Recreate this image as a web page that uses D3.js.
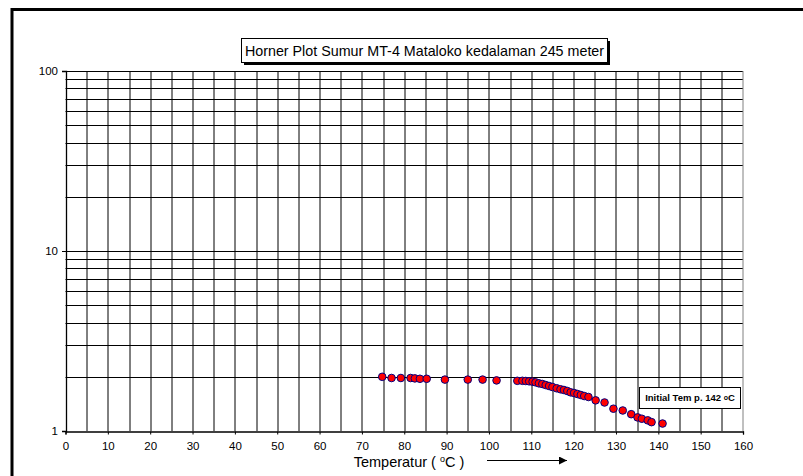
<!DOCTYPE html>
<html>
<head>
<meta charset="utf-8">
<script src="https://cdn.jsdelivr.net/npm/d3@7"></script>
<style>
  body { margin: 0; background: #fff; }
  text { font-family: "Liberation Sans", Arial, sans-serif; }
</style>
</head>
<body>
<div id="chart"></div>
<script>
// temperature (C) and horner time ratio
const temps = [74.8, 77.0, 79.2, 81.5, 82.5, 83.7, 85.3, 89.6, 95.0, 98.5, 101.8,
  106.7, 107.9, 108.7, 109.5, 110.3, 111.0, 111.8, 112.6, 113.4, 114.2, 115.0,
  116.0, 116.9, 117.7, 118.5, 119.3, 120.1, 120.9, 121.7, 122.5, 123.5, 125.2,
  127.3, 129.4, 131.6, 133.6, 135.1, 136.1, 137.5, 138.4, 141.0];
const horner = [2.00, 1.97, 1.97, 1.97, 1.96, 1.95, 1.95, 1.93, 1.93, 1.93, 1.91,
  1.90, 1.90, 1.896, 1.888, 1.880, 1.864, 1.840, 1.825, 1.801, 1.778, 1.755,
  1.727, 1.705, 1.690, 1.668, 1.640, 1.626, 1.605, 1.585, 1.564, 1.545, 1.48,
  1.44, 1.33, 1.30, 1.24, 1.19, 1.17, 1.146, 1.12, 1.10];

const xTicks = [0, 10, 20, 30, 40, 50, 60, 70, 80, 90, 100, 110, 120, 130, 140, 150, 160];
const xGrid = [5, 10, 15, 20, 25, 30, 35, 40, 45, 50, 55, 60, 65, 70, 75, 80, 85, 90, 95,
  100, 105, 110, 115, 120, 125, 130, 135, 140, 145, 150, 155];
const yTicks = [1, 10, 100];
const yGrid = [2, 3, 4, 5, 6, 7, 8, 9, 10, 20, 30, 40, 50, 60, 70, 80, 90, 100];

const titleText = "Horner Plot Sumur MT-4 Mataloko kedalaman 245 meter";

const W = 803, H = 476;
const margin = {top: 71, right: 60, bottom: 45, left: 65.5};
const width = 743 - margin.left;
const height = 431 - margin.top;

const svg = d3.select("#chart").append("svg")
  .attr("width", W)
  .attr("height", H);

// outer frame (runs off the right and bottom edge)
svg.append("rect")
  .attr("x", 12).attr("y", 9.5)
  .attr("width", 820).attr("height", 500)
  .attr("fill", "none")
  .attr("stroke", "#000")
  .attr("stroke-width", 3);

const g = svg.append("g")
  .attr("transform", `translate(${margin.left},${margin.top})`);

const x = d3.scaleLinear().domain([0, 160]).range([0, width]);
const y = d3.scaleLog().domain([1, 100]).range([height, 0]);

// grid
g.selectAll(".vgrid").data(xGrid).join("line")
  .attr("class", "vgrid")
  .attr("x1", d => Math.round(x(d)) + 0.5).attr("x2", d => Math.round(x(d)) + 0.5)
  .attr("y1", 0).attr("y2", height)
  .attr("stroke", "#000").attr("stroke-width", 1);

g.selectAll(".hgrid").data(yGrid).join("line")
  .attr("class", "hgrid")
  .attr("x1", 0).attr("x2", width)
  .attr("y1", d => Math.round(y(d)) + 0.5).attr("y2", d => Math.round(y(d)) + 0.5)
  .attr("stroke", "#000").attr("stroke-width", 1);

// plot border on the right, grey
g.append("line")
  .attr("x1", width).attr("x2", width)
  .attr("y1", 0).attr("y2", height)
  .attr("stroke", "#808080");

// axes
const xAxis = g.append("g")
  .attr("transform", `translate(0,${height + 0.5})`)
  .call(d3.axisBottom(x).tickValues(xTicks).tickSize(3).tickPadding(7));
const yAxis = g.append("g")
  .attr("transform", "translate(0.5,0)")
  .call(d3.axisLeft(y).tickValues(yTicks).tickFormat(d3.format("d")).tickSize(4).tickPadding(4));

[xAxis, yAxis].forEach(a => {
  a.select(".domain").attr("stroke", "#000").attr("stroke-width", 1.3);
  a.selectAll(".tick line").attr("stroke", "#000");
  a.selectAll(".tick text")
    .attr("font-size", 11.5)
    .attr("font-family", "Liberation Sans, Arial, sans-serif")
    .attr("fill", "#000");
});

// points
g.selectAll(".pt").data(temps).join("circle")
  .attr("class", "pt")
  .attr("cx", d => x(d))
  .attr("cy", (d, i) => y(horner[i]))
  .attr("r", 3.8)
  .attr("fill", "#ff0000")
  .attr("stroke", "#000080")
  .attr("stroke-width", 1);

// title box with shadow
const tb = {x: 241, y: 38, w: 366, h: 24};
svg.append("rect")
  .attr("x", tb.x + 3).attr("y", tb.y + 3)
  .attr("width", tb.w).attr("height", tb.h)
  .attr("fill", "#000");
svg.append("rect")
  .attr("x", tb.x + 0.5).attr("y", tb.y + 0.5)
  .attr("width", tb.w).attr("height", tb.h)
  .attr("fill", "#fff").attr("stroke", "#000");
svg.append("text")
  .attr("x", tb.x + tb.w / 2 + 0.5).attr("y", tb.y + 17.5)
  .attr("text-anchor", "middle")
  .attr("font-size", 14.3)
  .text(titleText);

// annotation box
const ab = {x: 639, y: 387, w: 101, h: 21};
svg.append("rect")
  .attr("x", ab.x + 0.5).attr("y", ab.y + 0.5)
  .attr("width", ab.w).attr("height", ab.h)
  .attr("fill", "#fff").attr("stroke", "#000");
const at = svg.append("text")
  .attr("x", ab.x + ab.w / 2 + 0.5).attr("y", ab.y + 14)
  .attr("text-anchor", "middle")
  .attr("font-size", 9.5)
  .attr("font-weight", "bold");
at.append("tspan").text("Initial Tem p. 142 ");
at.append("tspan").attr("font-size", 7).attr("dy", -1).text("o");
at.append("tspan").attr("dy", 1).text("C");

// x axis title with arrow
const xt = svg.append("text")
  .attr("x", 409).attr("y", 467)
  .attr("text-anchor", "middle")
  .attr("font-size", 14.5);
xt.append("tspan").text("Temperatur ( ");
xt.append("tspan").attr("font-size", 9).attr("dy", -5).text("o");
xt.append("tspan").attr("dy", 5).text("C )");

svg.append("defs").append("marker")
  .attr("id", "arr")
  .attr("viewBox", "0 0 10 10")
  .attr("refX", 10).attr("refY", 5)
  .attr("markerWidth", 8).attr("markerHeight", 8)
  .attr("markerUnits", "userSpaceOnUse")
  .attr("orient", "auto")
  .append("path").attr("d", "M0,0L10,5L0,10Z").attr("fill", "#000");

svg.append("line")
  .attr("x1", 487).attr("x2", 567)
  .attr("y1", 460.5).attr("y2", 460.5)
  .attr("stroke", "#000").attr("stroke-width", 1)
  .attr("marker-end", "url(#arr)");
</script>
</body>
</html>
